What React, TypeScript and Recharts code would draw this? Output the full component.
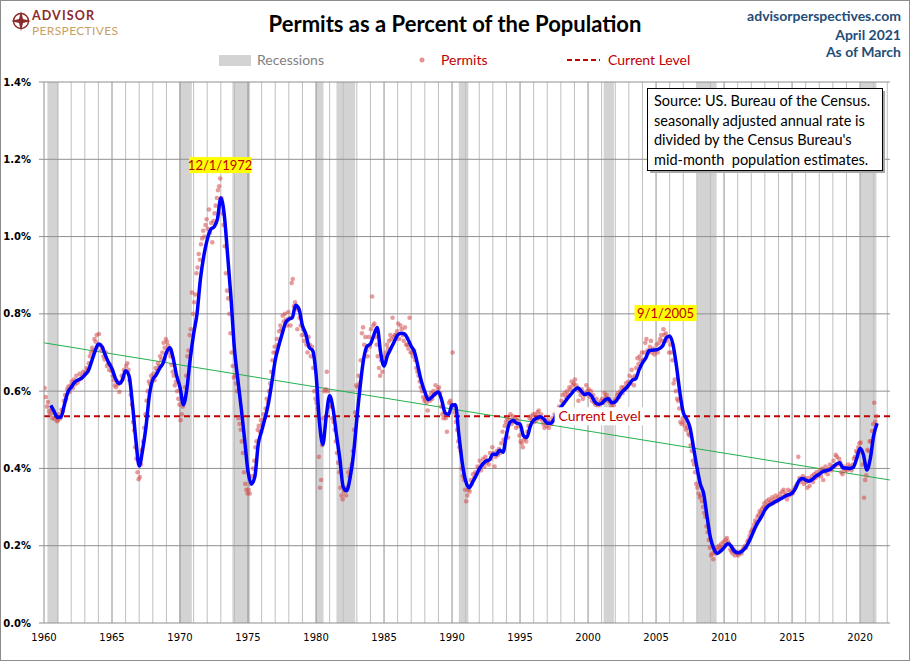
import React from 'react';
import { ComposedChart, Line, Scatter, XAxis, YAxis, ReferenceLine, ReferenceArea, ReferenceDot } from 'recharts';

// monthly permits as % of population, Jan of each year first
const permits1960s = [
  0.608, 0.585, 0.560, 0.572, 0.548, 0.540, 0.552, 0.530, 0.545, 0.528, 0.535, 0.522,
  0.525, 0.540, 0.530, 0.552, 0.548, 0.575, 0.590, 0.580, 0.605, 0.612, 0.598, 0.615,
  0.625, 0.608, 0.630, 0.618, 0.640, 0.622, 0.628, 0.645, 0.632, 0.638, 0.650, 0.641,
  0.648, 0.660, 0.655, 0.672, 0.690, 0.700, 0.712, 0.705, 0.735, 0.728, 0.745, 0.718,
  0.748, 0.720, 0.705, 0.712, 0.690, 0.682, 0.700, 0.665, 0.672, 0.655, 0.668, 0.652,
  0.640, 0.628, 0.615, 0.610, 0.625, 0.618, 0.598, 0.622, 0.640, 0.632, 0.655, 0.650,
  0.665, 0.672, 0.655, 0.628, 0.590, 0.565, 0.520, 0.498, 0.455, 0.425, 0.390, 0.372,
  0.378, 0.410, 0.448, 0.470, 0.505, 0.540, 0.575, 0.600, 0.625, 0.618, 0.640, 0.632,
  0.645, 0.628, 0.660, 0.652, 0.672, 0.665, 0.690, 0.682, 0.700, 0.725, 0.712, 0.735,
  0.728, 0.718, 0.700, 0.690, 0.668, 0.650, 0.640, 0.615, 0.625, 0.600, 0.580, 0.565,
];

const permits1970s = [
  0.525, 0.540, 0.560, 0.580, 0.610, 0.640, 0.690, 0.705, 0.745, 0.760, 0.855, 0.800,
  0.830, 0.850, 0.905, 0.920, 0.955, 0.940, 0.980, 0.995, 1.015, 1.000, 1.030, 1.045,
  1.020, 1.070, 1.010, 1.035, 0.985, 1.040, 1.060, 1.080, 1.100, 1.120, 1.130, 1.150,
  1.100, 1.060, 1.030, 0.975, 0.905, 0.860, 0.840, 0.800, 0.750, 0.700, 0.665, 0.635,
  0.640, 0.620, 0.600, 0.530, 0.515, 0.500, 0.470, 0.440, 0.390, 0.360, 0.345, 0.335,
  0.345, 0.335, 0.360, 0.380, 0.400, 0.420, 0.455, 0.470, 0.500, 0.510, 0.495, 0.525,
  0.515, 0.540, 0.530, 0.555, 0.580, 0.570, 0.600, 0.620, 0.650, 0.680, 0.700, 0.715,
  0.700, 0.735, 0.720, 0.755, 0.770, 0.760, 0.795, 0.780, 0.800, 0.785, 0.770, 0.805,
  0.790, 0.770, 0.880, 0.890, 0.820, 0.830, 0.815, 0.760, 0.810, 0.790, 0.770, 0.745,
  0.760, 0.730, 0.745, 0.720, 0.700, 0.740, 0.720, 0.690, 0.715, 0.660, 0.600, 0.580,
];

const permits1980s = [
  0.570, 0.555, 0.430, 0.350, 0.370, 0.460, 0.530, 0.600, 0.605, 0.650, 0.600, 0.560,
  0.575, 0.560, 0.530, 0.520, 0.500, 0.470, 0.440, 0.415, 0.390, 0.350, 0.330, 0.320,
  0.340, 0.345, 0.330, 0.350, 0.390, 0.380, 0.400, 0.410, 0.445, 0.500, 0.545, 0.615,
  0.610, 0.640, 0.620, 0.680, 0.750, 0.765, 0.720, 0.740, 0.705, 0.690, 0.740, 0.715,
  0.760, 0.845, 0.770, 0.775, 0.740, 0.720, 0.690, 0.660, 0.640, 0.680, 0.650, 0.670,
  0.690, 0.700, 0.720, 0.710, 0.730, 0.745, 0.735, 0.790, 0.740, 0.745, 0.745, 0.755,
  0.775, 0.735, 0.770, 0.760, 0.745, 0.730, 0.765, 0.720, 0.720, 0.710, 0.790, 0.700,
  0.700, 0.690, 0.705, 0.680, 0.660, 0.650, 0.640, 0.625, 0.610, 0.600, 0.585, 0.575,
  0.580, 0.570, 0.550, 0.585, 0.575, 0.595, 0.580, 0.600, 0.590, 0.615, 0.595, 0.605,
  0.610, 0.595, 0.560, 0.540, 0.530, 0.545, 0.530, 0.495, 0.540, 0.570, 0.575, 0.565,
];

const permits1990s = [
  0.700, 0.560, 0.545, 0.520, 0.500, 0.470, 0.455, 0.445, 0.400, 0.380, 0.370, 0.345,
  0.315, 0.330, 0.345, 0.340, 0.370, 0.360, 0.385, 0.375, 0.390, 0.385, 0.405, 0.400,
  0.420, 0.395, 0.410, 0.425, 0.405, 0.430, 0.415, 0.420, 0.410, 0.440, 0.425, 0.455,
  0.440, 0.405, 0.430, 0.445, 0.435, 0.450, 0.440, 0.465, 0.495, 0.475, 0.510, 0.520,
  0.530, 0.480, 0.525, 0.540, 0.515, 0.535, 0.520, 0.530, 0.505, 0.525, 0.510, 0.485,
  0.470, 0.465, 0.455, 0.475, 0.480, 0.470, 0.495, 0.510, 0.530, 0.535, 0.525, 0.540,
  0.520, 0.540, 0.525, 0.545, 0.550, 0.530, 0.540, 0.525, 0.515, 0.505, 0.520, 0.510,
  0.525, 0.505, 0.520, 0.515, 0.530, 0.525, 0.540, 0.535, 0.550, 0.545, 0.560, 0.555,
  0.575, 0.590, 0.570, 0.595, 0.585, 0.600, 0.590, 0.610, 0.605, 0.625, 0.615, 0.620,
  0.630, 0.615, 0.605, 0.575, 0.600, 0.590, 0.605, 0.580, 0.595, 0.590, 0.615, 0.600,
];

const permits2000s = [
  0.605, 0.585, 0.600, 0.575, 0.590, 0.570, 0.565, 0.580, 0.560, 0.570, 0.555, 0.575,
  0.580, 0.570, 0.595, 0.585, 0.590, 0.575, 0.580, 0.570, 0.560, 0.555, 0.565, 0.575,
  0.580, 0.590, 0.595, 0.585, 0.600, 0.610, 0.595, 0.610, 0.605, 0.620, 0.610, 0.625,
  0.640, 0.620, 0.655, 0.635, 0.615, 0.640, 0.660, 0.685, 0.670, 0.690, 0.680, 0.700,
  0.680, 0.700, 0.725, 0.735, 0.705, 0.700, 0.715, 0.730, 0.700, 0.710, 0.695, 0.705,
  0.720, 0.700, 0.725, 0.735, 0.745, 0.730, 0.760, 0.745, 0.750, 0.730, 0.740, 0.700,
  0.720, 0.700, 0.680, 0.620, 0.630, 0.600, 0.580, 0.575, 0.555, 0.520, 0.515, 0.530,
  0.520, 0.510, 0.500, 0.505, 0.490, 0.485, 0.460, 0.445, 0.420, 0.410, 0.390, 0.360,
  0.350, 0.335, 0.325, 0.330, 0.315, 0.300, 0.285, 0.275, 0.250, 0.235, 0.215, 0.195,
  0.175, 0.180, 0.165, 0.185, 0.180, 0.195, 0.190, 0.200, 0.195, 0.205, 0.195, 0.210,
];

const permits2010s = [
  0.200, 0.215, 0.220, 0.210, 0.205, 0.190, 0.185, 0.180, 0.190, 0.175, 0.185, 0.180,
  0.175, 0.180, 0.185, 0.180, 0.190, 0.195, 0.200, 0.195, 0.210, 0.215, 0.225, 0.235,
  0.240, 0.245, 0.255, 0.265, 0.260, 0.275, 0.280, 0.290, 0.285, 0.295, 0.300, 0.310,
  0.300, 0.315, 0.305, 0.320, 0.310, 0.315, 0.325, 0.310, 0.320, 0.330, 0.315, 0.325,
  0.320, 0.335, 0.325, 0.340, 0.345, 0.330, 0.335, 0.320, 0.345, 0.330, 0.340, 0.335,
  0.335, 0.345, 0.350, 0.355, 0.360, 0.430, 0.375, 0.365, 0.370, 0.380, 0.360, 0.375,
  0.365, 0.350, 0.375, 0.355, 0.370, 0.380, 0.365, 0.385, 0.375, 0.390, 0.380, 0.385,
  0.395, 0.380, 0.400, 0.370, 0.390, 0.405, 0.395, 0.385, 0.400, 0.410, 0.395, 0.405,
  0.420, 0.405, 0.435, 0.430, 0.410, 0.425, 0.415, 0.390, 0.385, 0.405, 0.395, 0.400,
  0.395, 0.410, 0.400, 0.405, 0.395, 0.410, 0.425, 0.430, 0.445, 0.440, 0.455, 0.465,
];

const permits2020s = [
  0.467, 0.443, 0.410, 0.324, 0.370, 0.382, 0.448, 0.445, 0.470, 0.470, 0.497, 0.515,
  0.570, 0.521, 0.535,
];

// smoothed series, one value per quarter starting mid-1960
const smoothed = [
  0.563, 0.547,
  0.532, 0.533, 0.565, 0.597,
  0.610, 0.623, 0.629, 0.633,
  0.642, 0.652, 0.677, 0.703,
  0.722, 0.716, 0.694, 0.674,
  0.658, 0.633, 0.620, 0.628,
  0.653, 0.640, 0.568, 0.475,
  0.406, 0.448, 0.508, 0.590,
  0.630, 0.642, 0.659, 0.672,
  0.700, 0.712, 0.685, 0.640,
  0.610, 0.565, 0.605, 0.683,
  0.748, 0.800, 0.890, 0.950,
  0.992, 1.018, 1.025, 1.045,
  1.100, 1.057, 0.952, 0.840,
  0.710, 0.630, 0.556, 0.475,
  0.392, 0.360, 0.378, 0.462,
  0.497, 0.530, 0.568, 0.622,
  0.680, 0.716, 0.747, 0.776,
  0.786, 0.790, 0.822, 0.812,
  0.770, 0.748, 0.713, 0.705,
  0.645, 0.520, 0.462, 0.535,
  0.588, 0.555, 0.488, 0.425,
  0.352, 0.342, 0.375, 0.435,
  0.528, 0.614, 0.683, 0.716,
  0.722, 0.745, 0.765, 0.700,
  0.665, 0.692, 0.710, 0.728,
  0.745, 0.750, 0.748, 0.735,
  0.716, 0.700, 0.663, 0.625,
  0.598, 0.578, 0.584, 0.593,
  0.598, 0.576, 0.543, 0.540,
  0.564, 0.565, 0.488, 0.415,
  0.368, 0.350, 0.364, 0.380,
  0.398, 0.411, 0.419, 0.422,
  0.437, 0.436, 0.447, 0.442,
  0.487, 0.519, 0.524, 0.517,
  0.515, 0.485, 0.480, 0.509,
  0.525, 0.530, 0.534, 0.528,
  0.517, 0.517, 0.527, 0.545,
  0.558, 0.570, 0.582, 0.592,
  0.603, 0.609, 0.600, 0.591,
  0.594, 0.588, 0.572, 0.566,
  0.568, 0.577, 0.580, 0.570,
  0.572, 0.585, 0.598, 0.606,
  0.616, 0.628, 0.632, 0.655,
  0.673, 0.686, 0.705, 0.706,
  0.707, 0.710, 0.718, 0.738,
  0.743, 0.720, 0.665, 0.597,
  0.545, 0.528, 0.505, 0.455,
  0.404, 0.360, 0.335, 0.275,
  0.220, 0.192, 0.180, 0.186,
  0.195, 0.205, 0.200, 0.186,
  0.182, 0.184, 0.192, 0.205,
  0.223, 0.244, 0.261, 0.275,
  0.292, 0.303, 0.308, 0.314,
  0.318, 0.323, 0.328, 0.332,
  0.336, 0.348, 0.368, 0.374,
  0.370, 0.367, 0.372, 0.380,
  0.385, 0.392, 0.394, 0.397,
  0.403, 0.411, 0.415, 0.401,
  0.401, 0.400, 0.403, 0.425,
  0.452, 0.435, 0.396, 0.425,
  0.485, 0.517,
];

const recessions = [
  [1960.25, 1961.08],
  [1969.95, 1970.87],
  [1973.85, 1975.15],
  [1980.0, 1980.55],
  [1981.5, 1982.88],
  [1990.5, 1991.2],
  [2001.15, 2001.9],
  [2008.0, 2009.45],
  [2020.05, 2021.2],
];

const labelYears = [1960, 1965, 1970, 1975, 1980, 1985, 1990, 1995, 2000, 2005, 2010, 2015, 2020];
const yTicks = [0, 0.2, 0.4, 0.6, 0.8, 1.0, 1.2, 1.4];
const currentLevel = 0.535;
const trendEnds = [{ x: 1960, y: 0.725 }, { x: 2022.2, y: 0.37 }];
const peakNotes = [
  { t: 1972.95, v: 1.185, text: '12/1/1972' },
  { t: 2005.7, v: 0.802, text: '9/1/2005' },
];
const sourceLines = [
  'Source: US. Bureau of the Census.',
  'seasonally adjusted annual rate is',
  "divided by the Census Bureau's",
  'mid-month  population estimates.',
];

const permitPoints = [
  ...permits1960s, ...permits1970s, ...permits1980s, ...permits1990s,
  ...permits2000s, ...permits2010s, ...permits2020s,
].map((v, k) => ({ t: 1960 + (k + 0.5) / 12, v }));

const smoothPoints = smoothed.map((v, i) => ({ t: 1960 + (6 + 3 * i) / 12, v }));

const gridYears: number[] = [];
for (let y = 1961; y <= 2022; y++) gridYears.push(y);

const FONT = 'Lato, "Open Sans", sans-serif';
const DARK_RED = '#c00000';

const PermitDot = (props: any) => (
  <circle cx={props.cx} cy={props.cy} r={2.3} fill="#d24a4a" fillOpacity={0.55} />
);

const NoteShape = (text: string) => (props: any) => (
  <g>
    <rect x={props.cx - 31} y={props.cy - 8} width={62} height={16} fill="#ffff00" />
    <text x={props.cx} y={props.cy + 4.5} textAnchor="middle" fontFamily={FONT} fontSize={13} fill={DARK_RED}>
      {text}
    </text>
  </g>
);

const CurrentLabel = (props: any) => (
  <g>
    <rect x={props.cx - 45} y={props.cy - 9} width={90} height={18} fill="#ffffff" />
    <text x={props.cx} y={props.cy + 5} textAnchor="middle" fontFamily={FONT} fontSize={14} fill={DARK_RED}>
      Current Level
    </text>
  </g>
);

const App: React.FC = () => {
  return (
    <div style={{ position: 'absolute', left: 0, top: 0, width: 910, height: 661, background: '#fff' }}>
      <ComposedChart
        width={910}
        height={661}
        margin={{ top: 82, right: 20, bottom: 8, left: 4 }}
      >
        {recessions.map(([a, b]) => (
          <ReferenceArea key={a} x1={a} x2={b} fill="#d3d3d3" fillOpacity={1} stroke="none" zIndex={-90} />
        ))}
        {gridYears.map((y) => (
          <ReferenceLine
            key={'v' + y}
            x={y}
            stroke={y % 5 === 0 ? '#8f8f8f' : '#bfbfbf'}
            strokeWidth={1}
            zIndex={-80}
          />
        ))}
        {yTicks.slice(1).map((v) => (
          <ReferenceLine key={'h' + v} y={v} stroke="#8f8f8f" strokeWidth={1} zIndex={-80} />
        ))}
        <XAxis
          type="number"
          dataKey="t"
          domain={[1960, 2022.2]}
          ticks={labelYears}
          interval={0}
          allowDataOverflow
          tickLine={false}
          tickSize={6}
          tickMargin={5}
          axisLine={{ stroke: '#8f8f8f' }}
          tick={{ fontFamily: 'DejaVu Sans', fontSize: 10, fill: '#000' }}
          height={30}
        />
        <YAxis
          type="number"
          dataKey="v"
          domain={[0, 1.4]}
          ticks={yTicks}
          interval={0}
          allowDataOverflow
          width={40}
          tickSize={5}
          tickMargin={8}
          tickLine={{ stroke: '#8f8f8f' }}
          axisLine={{ stroke: '#8f8f8f' }}
          tickFormatter={(v: number) => v.toFixed(1) + '%'}
          tick={{ fontFamily: 'DejaVu Sans', fontSize: 10, fontWeight: 'bold', fill: '#000' }}
        />
        <ReferenceLine segment={trendEnds} stroke="#22b14c" strokeWidth={1} zIndex={300} />
        <ReferenceLine y={currentLevel} stroke={DARK_RED} strokeWidth={2} strokeDasharray="6 4" zIndex={350} />
        <Scatter
          data={permitPoints}
          dataKey="v"
          shape={PermitDot}
          isAnimationActive={false}
          zIndex={600}
        />
        <Line
          data={smoothPoints}
          dataKey="v"
          type="monotone"
          stroke="#0000ff"
          strokeWidth={3.5}
          dot={false}
          activeDot={false}
          isAnimationActive={false}
          zIndex={700}
        />
        {peakNotes.map((n) => (
          <ReferenceDot key={n.text} x={n.t} y={n.v} r={0} shape={NoteShape(n.text)} zIndex={2100} />
        ))}
        <ReferenceDot x={2000.85} y={currentLevel} r={0} shape={CurrentLabel} zIndex={2100} />
      </ComposedChart>

      <svg
        width={910}
        height={661}
        style={{ position: 'absolute', left: 0, top: 0, pointerEvents: 'none' }}
      >
        <rect x={0.5} y={0.5} width={909} height={660} fill="none" stroke="#8c8c8c" />

        {/* logo */}
        <g>
          <circle cx={21} cy={21} r={7.5} fill="none" stroke="#8b2a2a" strokeWidth={1.5} />
          <path d="M21 11 L23 19 L31 21 L23 23 L21 31 L19 23 L11 21 L19 19 Z" fill="#8b2a2a" />
          <text x={32} y={19.5} fontFamily={FONT} fontWeight="bold" fontSize={12.5} fill="#8b2a2a" textLength={62}>
            ADVISOR
          </text>
          <text x={32} y={34.5} fontFamily={FONT} fontSize={12} fill="#c9a063" textLength={86}>
            PERSPECTIVES
          </text>
        </g>

        <text x={455} y={32} textAnchor="middle" fontFamily={FONT} fontWeight="bold" fontSize={22} fill="#000">
          Permits as a Percent of the Population
        </text>

        <g fontFamily={FONT} fontWeight="bold" fontSize={14} fill="#1f4e79" textAnchor="end">
          <text x={901} y={21}>advisorperspectives.com</text>
          <text x={901} y={40}>April 2021</text>
          <text x={901} y={57}>As of March</text>
        </g>

        {/* legend */}
        <rect x={219} y={55} width={32} height={11} fill="#d3d3d3" />
        <text x={257} y={65} fontFamily={FONT} fontSize={14} fill="#7f7f7f">Recessions</text>
        <circle cx={422} cy={60} r={2.5} fill="#d24a4a" fillOpacity={0.6} />
        <text x={441} y={65} fontFamily={FONT} fontSize={14} fill={DARK_RED}>Permits</text>
        <line x1={567} y1={60} x2={600} y2={60} stroke={DARK_RED} strokeWidth={2} strokeDasharray="5 3" />
        <text x={608} y={65} fontFamily={FONT} fontSize={14} fill={DARK_RED}>Current Level</text>

        {/* source box */}
        <rect x={650} y={91} width={235} height={82} fill="#a6a6a6" />
        <rect x={647.5} y={88.5} width={235} height={82} fill="#fff" stroke="#000" />
        {sourceLines.map((s, i) => (
          <text
            key={s}
            x={654}
            y={106 + i * 19.5}
            fontFamily={FONT}
            fontSize={14.5}
            fill="#000"
            style={{ whiteSpace: 'pre' }}
          >
            {s}
          </text>
        ))}
      </svg>
    </div>
  );
};

export default App;
